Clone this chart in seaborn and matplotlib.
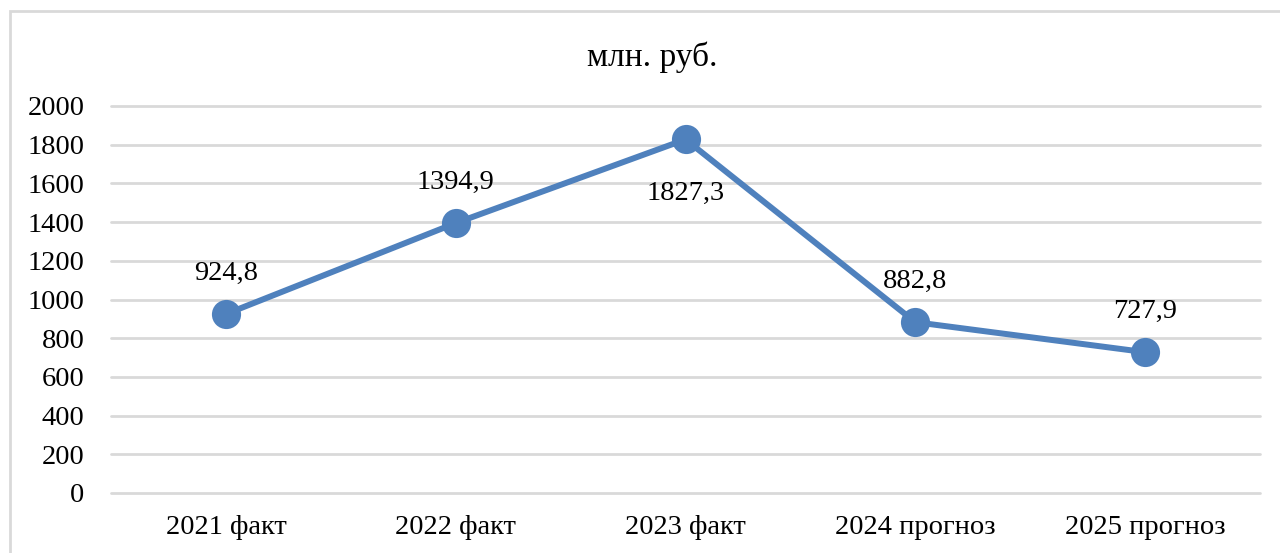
import pandas as pd
import matplotlib.pyplot as plt
import seaborn as sns
from matplotlib.patches import Rectangle

# %% data
categories = ["2021 факт", "2022 факт", "2023 факт", "2024 прогноз", "2025 прогноз"]
values = [924.8, 1394.9, 1827.3, 882.8, 727.9]
labels = ["924,8", "1394,9", "1827,3", "882,8", "727,9"]
label_below = [False, False, True, False, False]

df = pd.DataFrame({"period": categories, "value": values})

# %% plot
sns.set_theme(style="white")
plt.rcParams["font.family"] = ["Liberation Serif", "DejaVu Serif"]

fig = plt.figure(figsize=(12.8, 5.53), dpi=100)
ax = fig.add_axes([111 / 1280, 60 / 553, 1149 / 1280, 387 / 553])

color = "#4f81bd"
sns.lineplot(data=df, x="period", y="value", ax=ax, color=color, linewidth=4.3,
             marker="o", markersize=21, markeredgewidth=0, sort=False, zorder=3)

ax.set_ylim(0, 2000)
ax.set_yticks(range(0, 2001, 200))
ax.set_xlim(-0.5, len(categories) - 0.5)
ax.yaxis.grid(True, color="#d9d9d9", linewidth=2)
for gl in ax.get_ygridlines():
    gl.set_clip_on(False)
ax.xaxis.grid(False)
for s in ax.spines.values():
    s.set_visible(False)
ax.tick_params(axis="both", length=0, labelsize=20.5, colors="black")
ax.tick_params(axis="y", pad=19)
ax.tick_params(axis="x", pad=16)
ax.set_xlabel("")
ax.set_ylabel("")

for i, (v, lab, below) in enumerate(zip(values, labels, label_below)):
    off = -54 if below else 41
    ax.annotate(lab, (i, v), xytext=(0, off), textcoords="offset pixels",
                ha="center", va="center", fontsize=20.5, color="black")

fig.text(652 / 1280, 1 - 57 / 553, "млн. руб.", ha="center", va="center",
         fontsize=24, color="black")
fig.patches.append(Rectangle((10 / 1280, -0.1), 1.2, 1 - 11 / 553 + 0.1,
                             transform=fig.transFigure, fill=False,
                             edgecolor="#d9d9d9", linewidth=2))

fig.savefig("out.png", dpi=100)
